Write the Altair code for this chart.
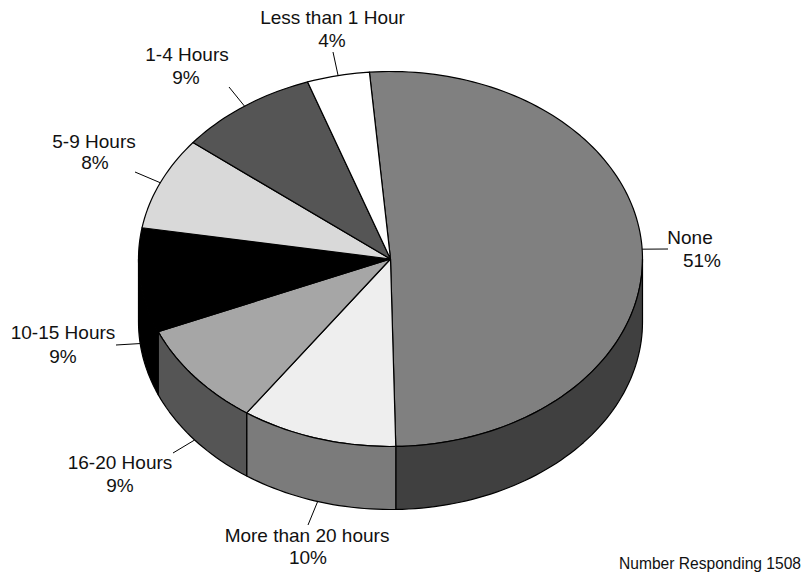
import math
import altair as alt
import pandas as pd

# Data
categories = ["None", "More than 20 hours", "16-20 Hours", "10-15 Hours", "5-9 Hours", "1-4 Hours", "Less than 1 Hour"]
percent = [51, 10, 9, 9, 8, 9, 4]
exact = [51.0, 10.0, 9.0, 9.0, 8.0, 9.0, 4.0]
footnote = "Number Responding 1508"

# Styles and layout
top_colors = ["#808080", "#eeeeee", "#a6a6a6", "#000000", "#d9d9d9", "#555555", "#ffffff"]
wall_colors = ["#404040", "#7b7b7b", "#555555", "#000000", "#808080", "#808080", "#808080"]
start_deg = -4.8
CX, CY, RX, RY, DEPTH = 390.5, 259.0, 252.0, 187.5, 63.0
leader_end = [(668, 249), (308, 525), (173, 453), (116, 345), (135, 172), (229, 87), (333, 52)]
name_pos = [(690, 238), (307, 536), (120, 463), (63, 333), (94, 142), (187, 55), (332.5, 18)]
pct_pos = [(702, 261), (308, 558), (120, 486), (63, 357), (95, 163), (186, 78), (332, 41)]
W, H = 794, 564
FONT = "Liberation Sans"


def pt(t, dy=0.0):
    a = math.radians(t)
    return CX + RX * math.sin(a), CY - RY * math.cos(a) + dy


def arc(t0, t1, dy=0.0):
    n = max(2, int(abs(t1 - t0) / 1.5) + 1)
    return [pt(t0 + (t1 - t0) * i / n, dy) for i in range(n + 1)]


rows, leaders = [], []
t = start_deg
total = sum(exact)
for k, cat in enumerate(categories):
    t1 = t + 360 * exact[k] / total
    poly = [(CX, CY)] + arc(t, t1) + [(CX, CY)]
    for i, (x, y) in enumerate(poly):
        rows.append({"shape": f"top{k}", "i": i, "x": x, "y": y})
    a, b = max(t, 90), min(t1, 270)
    if a < b:
        poly = arc(a, b) + arc(b, a, DEPTH)
        poly.append(poly[0])
        for i, (x, y) in enumerate(poly):
            rows.append({"shape": f"wall{k}", "i": i, "x": x, "y": y})
    mid = (t + t1) / 2
    sx, sy = pt(mid, DEPTH if 90 < mid < 270 else 0)
    ex, ey = leader_end[k]
    leaders.append({"x": sx, "y": sy, "x2": ex, "y2": ey})
    t = t1

shapes = pd.DataFrame(rows)
domain = [f"wall{k}" for k in range(7)] + [f"top{k}" for k in range(7)]
rng = wall_colors + top_colors

xs = alt.Scale(domain=[8, 8 + W], range=[0, W], nice=False)
ys = alt.Scale(domain=[8, 8 + H], range=[0, H], nice=False)
X = alt.X("x:Q", scale=xs, axis=None)
Y = alt.Y("y:Q", scale=ys, axis=None)

faces = alt.Chart(shapes).mark_line(stroke="black", strokeWidth=1.2, strokeJoin="round").encode(
    x=X, y=Y, order="i:Q", detail="shape:N",
    fill=alt.Fill("shape:N", scale=alt.Scale(domain=domain, range=rng), legend=None),
)

rules = alt.Chart(pd.DataFrame(leaders)).mark_rule(color="black", strokeWidth=1).encode(
    x=X, y=Y, x2="x2:Q", y2="y2:Q"
)

labels = pd.DataFrame(
    [{"x": name_pos[k][0], "y": name_pos[k][1], "t": categories[k]} for k in range(7)]
    + [{"x": pct_pos[k][0], "y": pct_pos[k][1], "t": f"{percent[k]}%"} for k in range(7)]
)
text = alt.Chart(labels).mark_text(font=FONT, fontSize=19, color="#111111", align="center", baseline="middle").encode(
    x=X, y=Y, text="t:N"
)
note = alt.Chart(pd.DataFrame([{"x": 801, "y": 564, "t": footnote}])).mark_text(
    font=FONT, fontSize=15.6, color="#111111", align="right", baseline="middle"
).encode(x=X, y=Y, text="t:N")

chart = alt.layer(faces, rules, text, note).properties(
    width=W, height=H, padding=0, autosize=alt.AutoSizeParams(type="none")
).configure_view(stroke=None)

chart.save("out.html", embed_options={"renderer": "svg", "actions": False})
